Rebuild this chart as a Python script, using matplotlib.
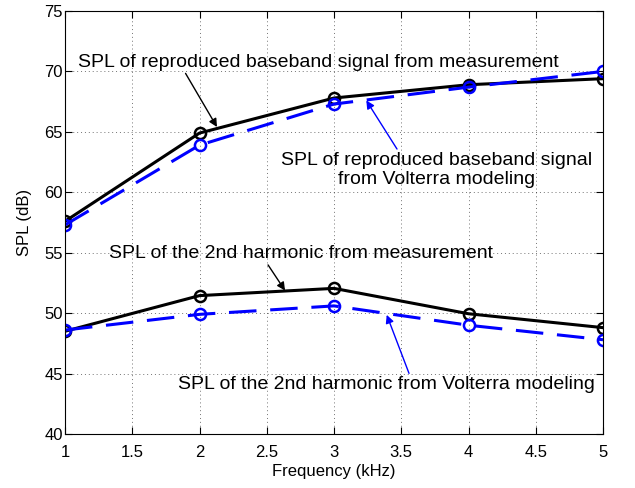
import numpy as np
import matplotlib
matplotlib.use('Agg')
import matplotlib.pyplot as plt

plt.rcParams['font.family'] = ['Liberation Sans', 'DejaVu Sans']

# frequency points (kHz)
freq = [1, 2, 3, 4, 5]

# baseband SPL (dB)
base_meas = [57.6, 64.9, 67.8, 68.9, 69.4]
base_volt = [57.3, 63.9, 67.3, 68.7, 70.0]

# 2nd harmonic SPL (dB)
harm_meas = [48.5, 51.45, 52.05, 49.95, 48.8]
harm_volt = [48.6, 49.9, 50.6, 49.0, 47.8]

xticks = [1, 1.5, 2, 2.5, 3, 3.5, 4, 4.5, 5]
xticklabels = ['1', '1.5', '2', '2.5', '3', '3.5', '4', '4.5', '5']
yticks = [40, 45, 50, 55, 60, 65, 70, 75]

fig = plt.figure(figsize=(6.35, 4.88), dpi=100)
ax = fig.add_axes([65/635, 1 - 434/488, 538/635, 423/488])

# measured curves: black solid, Volterra: blue dashed
dash = (0, (9, 4.5))
ax.plot(freq, base_meas, color='k', lw=2.2, marker='o', ms=8, mfc='none', mew=1.8)
ax.plot(freq, base_volt, color='b', lw=2.2, ls=dash, marker='o', ms=8, mfc='none', mew=1.8)
ax.plot(freq, harm_meas, color='k', lw=2.2, marker='o', ms=8, mfc='none', mew=1.8)
ax.plot(freq, harm_volt, color='b', lw=2.2, ls=dash, marker='o', ms=8, mfc='none', mew=1.8)

ax.set_xlim(1, 5)
ax.set_ylim(40, 75)
ax.set_xticks(xticks)
ax.set_xticklabels(xticklabels)
ax.set_yticks(yticks)
ax.tick_params(direction='in', top=True, right=True, labelsize=12, length=5)
ax.tick_params(axis='x', pad=8)
ax.tick_params(axis='y', pad=1.5)
ax.grid(True, ls=(0, (1, 3)), color='k', lw=0.7, alpha=0.55)
ax.set_xlabel('Frequency (kHz)', fontsize=12, labelpad=3)
ax.set_ylabel('SPL (dB)', fontsize=12, labelpad=9)

# annotations
fs = 14
arrow_k = dict(arrowstyle='-|>', color='k', lw=1, mutation_scale=12, shrinkA=0, shrinkB=0)
arrow_b = dict(arrowstyle='-|>', color='b', lw=1, mutation_scale=12, shrinkA=0, shrinkB=0)
ax.annotate('SPL of reproduced baseband signal from measurement',
            xy=(2.13, 65.4), xytext=(2.885, 70.4), ha='center', va='baseline', fontsize=fs,
            arrowprops=dict(arrow_k, relpos=(0.22, 0)))
ax.annotate('SPL of reproduced baseband signal\nfrom Volterra modeling',
            xy=(3.24, 67.6), xytext=(3.766, 63.35), ha='center', va='top', fontsize=fs,
            linespacing=1.2,
            arrowprops=dict(arrow_b, relpos=(0.377, 1)))
ax.annotate('SPL of the 2nd harmonic from measurement',
            xy=(2.636, 51.87), xytext=(2.753, 54.55), ha='center', va='baseline', fontsize=fs,
            arrowprops=dict(arrow_k, relpos=(0.41, 0)))
ax.annotate('SPL of the 2nd harmonic from Volterra modeling',
            xy=(3.392, 49.86), xytext=(3.389, 43.71), ha='center', va='baseline', fontsize=fs,
            arrowprops=dict(arrow_b, relpos=(0.557, 1)))

fig.savefig('out.png', dpi=100)
